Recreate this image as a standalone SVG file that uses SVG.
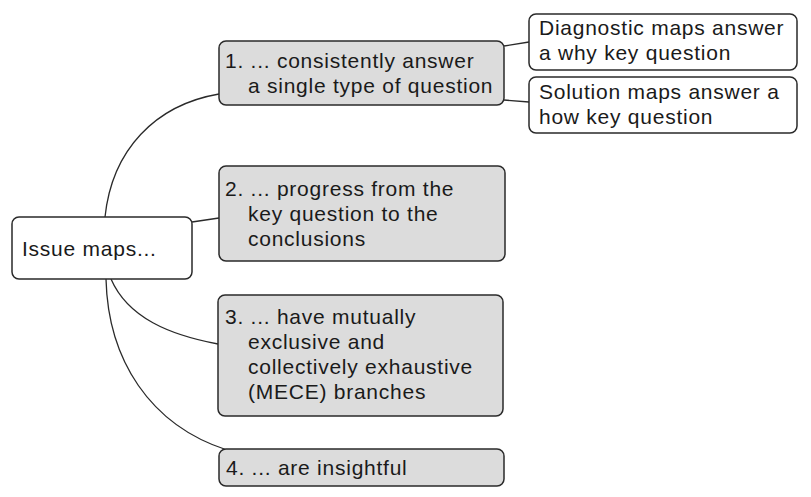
<svg xmlns="http://www.w3.org/2000/svg" width="811" height="497" viewBox="0 0 811 497">
<style>
.box{fill:#dcdcdc;stroke:#2a2a2a;stroke-width:1.5}
.wbox{fill:#ffffff;stroke:#2a2a2a;stroke-width:1.5}
.t{font-family:"Liberation Sans",Arial,sans-serif;font-size:21px;letter-spacing:0.75px;fill:#1a1a1a}
.c{fill:none;stroke:#2a2a2a;stroke-width:1.3}
</style>
<rect width="811" height="497" fill="#ffffff"/>
<g id="connectors">
<path class="c" d="M105,217 C112,150 155,105 219,94"/>
<path class="c" d="M192,222 L219,218"/>
<path class="c" d="M111,279 C128,318 170,335 218,344"/>
<path class="c" d="M106,279 C108,360 150,425 227,450"/>
<path class="c" d="M504,46 L529,42"/>
<path class="c" d="M504,100 L529,102"/>
</g>
<g id="root">
<rect class="wbox" x="12" y="217" width="180" height="62" rx="7"/>
<text class="t" x="22" y="256">Issue maps...</text>
</g>
<g id="n1">
<rect class="box" x="219" y="41" width="285" height="64" rx="7"/>
<text class="t" x="225" y="68">1. ... consistently answer</text>
<text class="t" x="248" y="93">a single type of question</text>
</g>
<g id="n2">
<rect class="box" x="219" y="166" width="286" height="95" rx="7"/>
<text class="t" x="225" y="196">2. ... progress from the</text>
<text class="t" x="248" y="221">key question to the</text>
<text class="t" x="248" y="246">conclusions</text>
</g>
<g id="n3">
<rect class="box" x="218" y="295" width="285" height="121" rx="7"/>
<text class="t" x="225" y="324">3. ... have mutually</text>
<text class="t" x="248" y="349">exclusive and</text>
<text class="t" x="248" y="374">collectively exhaustive</text>
<text class="t" x="248" y="399">(MECE) branches</text>
</g>
<g id="n4">
<rect class="box" x="219" y="449" width="285" height="37" rx="7"/>
<text class="t" x="226" y="475">4. ... are insightful</text>
</g>
<g id="d1">
<rect class="wbox" x="529" y="14" width="268" height="56" rx="7"/>
<text class="t" x="539" y="35">Diagnostic maps answer</text>
<text class="t" x="539" y="60">a why key question</text>
</g>
<g id="s1">
<rect class="wbox" x="529" y="77" width="268" height="56" rx="7"/>
<text class="t" x="539" y="99">Solution maps answer a</text>
<text class="t" x="539" y="124">how key question</text>
</g>
</svg>
